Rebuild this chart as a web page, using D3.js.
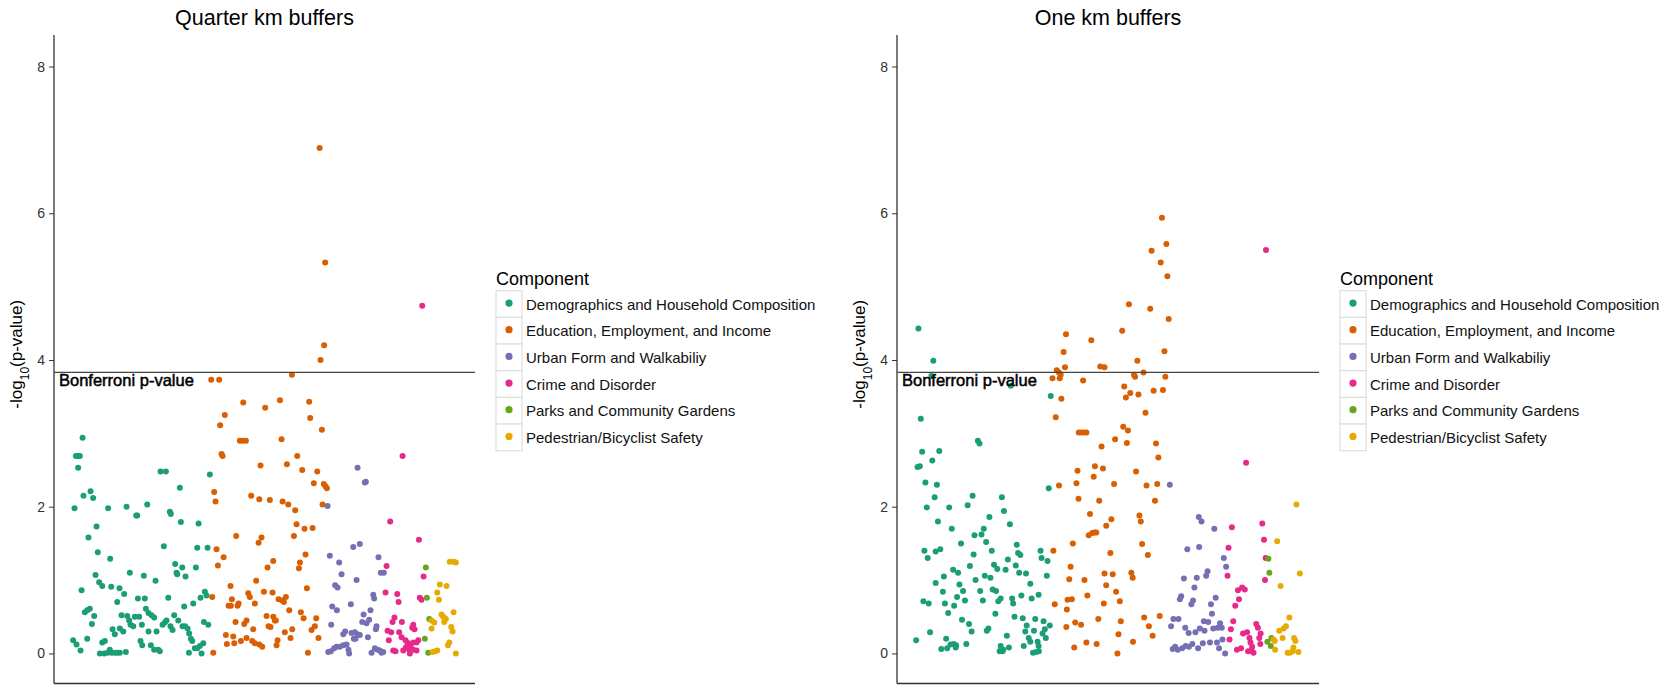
<!DOCTYPE html>
<html>
<head>
<meta charset="utf-8">
<script src="https://cdn.jsdelivr.net/npm/d3@7"></script>
<style>
  body { margin: 0; background: #fff; }
  text { font-family: "Liberation Sans", Arial, sans-serif; }
</style>
</head>
<body>
<svg id="chart" width="1669" height="685"></svg>
<script>
// component names and Dark2 colours
let components = [
    'Demographics and Household Composition',
    'Education, Employment, and Income',
    'Urban Form and Walkabiliy',
    'Crime and Disorder',
    'Parks and Community Gardens',
    'Pedestrian/Bicyclist Safety'
];
let colors = ['#1B9E77', '#D95F02', '#7570B3', '#E7298A', '#66A61E', '#E6AB02'];

let yTicks = [0, 2, 4, 6, 8];
let bonferroni = 3.83;

// [variable index, -log10(p)]
// ---- quarter km buffers ----
let quarterDemo = [
    [9.5,2.94],[3.6,2.69],[5.1,2.69],[7.1,2.69],[5.6,2.53],[2.4,1.98],[10.3,2.15],[16.5,2.21],[18.8,2.12],
    [21.8,1.73],[14.7,1.58],[22.9,1.38],[33.8,1.29],[32,1.98],[48.2,2],[56.7,1.88],[57.6,1.88],[66.4,2.03],
    [20.9,1.07],[24.1,0.97],[26.8,0.92],[8.6,0.86],[34.7,0.91],[42,0.89],[46.1,0.81],[40,0.7],[51.1,1.1],
    [63.4,1.06],[73.7,0.99],[58.2,0.75],[64.3,0.75],[84.9,0.76],[78.1,2.48],[82.8,2.48],[86.3,1.93],[87.2,1.9],
    [95.1,2.26],[96,1.79],[81,1.46],[91,1.22],[92.2,1.1],[92.8,1.08],[97.2,1.17],[100.1,1.05],[109.2,1.17],
    [110.4,1.44],[111.6,1.77],[119.5,1.44],[121.5,2.44],[117.1,0.84],[118.6,0.79],[113.3,0.76],[106.9,0.68],
    [98.9,0.64],[11.5,0.56],[13.6,0.59],[15.9,0.61],[19.7,0.51],[17.7,0.4],[13.6,0.2],[1.2,0.18],[4.2,0.12],
    [7.7,0.04],[26.8,0.15],[29.1,0.17],[24.7,0],[28.5,0],[31.5,0.01],[33.5,0.05],[35,0.01],[37.9,0.01],
    [40,0.01],[42.3,0.01],[47.6,0.02],[35.9,0.33],[37.9,0.26],[43.8,0.52],[42.3,0.34],[45.3,0.3],[48.8,0.51],
    [50.5,0.45],[51.7,0.39],[54.1,0.37],[55.5,0.5],[59.3,0.5],[61.7,0.39],[60.5,0.17],[62,0.11],[65.2,0.61],
    [67.5,0.55],[70.2,0.52],[72.5,0.49],[67.5,0.3],[74.6,0.3],[69.6,0.11],[72.5,0.05],[76.1,0.05],[77.5,0.03],
    [79.9,0.39],[81.9,0.42],[83.4,0.45],[86.9,0.37],[88.7,0.32],[90.1,0.52],[93.7,0.45],[97.5,0.37],[99.8,0.37],
    [101.9,0.34],[103.3,0.27],[104.8,0.2],[106,0.17],[103.1,0.01],[108.3,0.07],[110.4,0.07],[112.7,0.1],
    [115.7,0.14],[114.2,0],[116.3,0.43],[120.1,0.39]
];
let quarterEdu = [
    [122.7,3.73],[129.7,3.73],[134.7,3.25],[130.6,3.11],[131.8,2.72],[132.7,2.69],[125.3,2.2],[126.5,2.07],
    [127.4,1.42],[133.6,1.31],[128.6,1.2],[123.6,0.77],[124.5,0.01],[139.7,0.92],[140.9,0.74],[138,0.65],
    [140,0.65],[146.8,0.68],[145.9,0.65],[144.1,0.43],[135.6,0.25],[136.5,0.13],[142.1,0.23],[143,0.14],
    [148.8,0.17],[150.9,3.42],[147.9,2.9],[150.3,2.9],[153.2,2.9],[144.7,1.6],[157.9,2.15],[165,2.1],
    [166.1,2.56],[170.2,3.35],[151.8,0.4],[153.8,0.45],[155.3,0.82],[156.7,0.77],[161.1,0.68],[162.3,0.99],
    [164.4,1.51],[167,1.58],[172.3,1.17],[177.3,1.26],[169.1,0.84],[176.7,0.83],[171.4,0.51],[173.2,0.37],
    [174.9,0.36],[177.3,0.5],[178.7,0.45],[179.6,0.45],[153.8,0.21],[158.8,0.17],[161.1,0.14],[165,0.12],
    [167.6,0.09],[159.7,0.33],[174.3,2.09],[181.1,0.18],[180.2,0.11],[183.2,3.45],[184.6,2.92],[189.3,2.58],
    [185.5,2.07],[190.5,2.03],[196.6,1.95],[197.8,1.76],[195.5,1.6],[198.4,2.69],[182,0.74],[185.2,0.72],
    [186.7,0.7],[188.4,0.77],[191.4,0.59],[187.5,0.29],[192.5,0.21],[194,0.33],[193.7,3.8],[199.9,1.16],
    [200.8,1.24],[222.1,4.2],[218.9,4],[208.9,3.43],[209.8,3.21],[220.1,3.05],[202.8,2.5],[216,2.48],
    [213,2.32],[221.8,2.31],[223.3,2.28],[224.5,2.25],[220.7,2.03],[204.8,1.7],[211.9,1.71],[205.7,1.35],
    [206.9,0.89],[204,0.48],[201.6,0.56],[215.1,0.48],[213.9,0.37],[211,0.32],[217.1,0.21],[207.8,0.01],
    [218.1,6.89],[223,5.33]
];
let quarterUrban = [
    [225.1,2.01],[251.5,2.53],[257.9,2.33],[258.8,2.34],[247.7,1.45],[253.5,1.49],[227.1,1.33],[235.3,1.24],
    [237.4,1.08],[250.6,1],[269.9,1.31],[231.8,0.93],[233.9,0.9],[229.2,0.64],[233.3,0.59],[245.6,0.67],
    [228.3,0.39],[265.3,0.8],[266.1,0.75],[262.9,0.59],[272,1.1],[274.6,1.1],[256.8,0.53],[255.6,0.43],
    [259.4,0.41],[261.7,0.46],[268.2,0.37],[267.6,0.33],[238.9,0.26],[240.6,0.3],[246.2,0.28],[249.1,0.29],
    [251.5,0.26],[253.5,0.25],[249.7,0.2],[248.2,0.2],[260.6,0.22],[225.7,0.02],[228,0.03],[230.9,0.07],
    [233,0.09],[235.9,0.09],[238.9,0.11],[241.8,0.12],[243.5,0.05],[244.1,0],[263.8,0.01],[266.7,0.07],
    [269.1,0.05],[271.1,0.04],[272.6,0.01],[274.1,0.02]
];
let quarterCrime = [
    [291.1,2.69],[280.2,1.8],[305.5,1.55],[277,1.19],[309.6,1.05],[276.1,0.83],[286.4,0.81],[287.6,0.7],
    [306.3,0.76],[307.8,0.73],[284,0.49],[282.3,0.43],[290.5,0.43],[300.5,0.39],[299.6,0.35],[301.6,0.33],
    [277.9,0.31],[281.1,0.29],[288.1,0.29],[290.2,0.22],[279,0.18],[293.7,0.18],[295.5,0.14],[298.1,0.09],
    [300.5,0.15],[303.4,0.15],[304.9,0.18],[282.9,0.04],[284.9,0.03],[291.7,0.04],[294,0.08],[297,0.05],
    [297.5,0],[300.5,0.05],[303.4,0.04],[296.1,0.14],[308.4,4.74]
];
let quarterParks = [[311.6,1.17],[312.5,0.76],[314.6,0.47],[310.7,0.2],[313.7,0.01]];
let quarterSafety = [
    [332.7,1.25],[336,1.25],[338,1.24],[323.9,0.94],[329.8,0.92],[321.6,0.83],[323.1,0.73],[336,0.56],
    [325.4,0.53],[326.9,0.5],[327.8,0.43],[329.2,0.47],[316.6,0.45],[319,0.42],[316.6,0.34],[333.9,0.36],
    [335.1,0.3],[332.2,0.15],[331,0.11],[317.5,0.02],[319.8,0.03],[321.6,0.04],[338,0]
];

// ---- one km buffers ----
let oneDemo = [
    [4.3,4.43],[17.5,3.99],[15.8,3.78],[86.3,3.65],[6.4,3.2],[7.6,2.75],[22.8,2.76],[16.6,2.63],[3.5,2.54],
    [5.5,2.55],[10.5,2.33],[20.7,2.3],[57.1,2.9],[58.5,2.86],[18.7,2.13],[11.7,1.99],[21.6,1.8],[31.6,1.99],
    [33.9,1.7],[48,2.02],[52.4,2.15],[78.4,2.13],[80.2,1.94],[85.5,1.76],[67.3,1.86],[62.3,1.7],[60.3,1.62],
    [54.1,1.61],[64.4,1.52],[69.4,1.4],[42.1,1.5],[53.3,1.35],[9.6,1.4],[12.5,1.3],[19.6,1.39],[23.7,1.42],
    [91.6,1.48],[92.8,1.37],[94.8,1.34],[83.7,1.28],[71.4,1.21],[74.3,1.15],[81.7,1.14],[90.7,1.2],[50,1.19],
    [35.1,1.14],[39.5,1.1],[26.9,1.05],[19.6,0.96],[40.7,0.94],[55,1],[63.2,1.06],[68.2,1.03],[26,0.84],
    [38.6,0.77],[43.9,0.85],[45.6,0.72],[59.1,0.85],[61.5,0.72],[70.2,0.87],[73.2,0.85],[75.2,0.71],[77.3,0.75],
    [87.5,0.75],[88.4,0.68],[95.7,0.79],[93.7,1.1],[99.8,1.09],[103.6,0.95],[104.8,0.75],[111,0.8],[8.7,0.71],
    [13.4,0.68],[27.8,0.68],[36,0.65],[30.7,0.55],[43,0.46],[49.2,0.4],[51.5,0.3],[65,0.31],[66.4,0.34],
    [72.6,0.54],[89.6,0.5],[96.9,0.48],[100.4,0.38],[99.2,0.3],[108,0.47],[106.9,0.31],[115.4,0.44],
    [116.5,0.33],[120.9,0.38],[114.5,0.27],[117.4,0.21],[102.2,0.21],[103.6,0.16],[110.1,0.16],[111,0.1],
    [97.8,0.1],[106,0.01],[108.9,0.02],[111.2,0.03],[14.6,0.29],[2.3,0.18],[28.9,0.2],[24.6,0.06],[29.8,0.07],
    [32.8,0.12],[35.7,0.13],[37.7,0.11],[37.4,0.08],[46.8,0.13],[82.8,0.24],[84.6,0.08],[77.3,0.1],[77.9,0.05],
    [79,0.03],[76.4,0.03],[79.6,0.05],[118.3,1.06],[112.7,1.4],[113.6,1.3],[118.9,1.26],[120,2.25],[121.8,3.51]
];
let oneEdu = [
    [135.3,4.35],[133.2,4.11],[127.1,3.86],[129.1,3.83],[130.6,3.8],[134.4,3.9],[123.3,3.75],[129.7,3.75],
    [131.2,3.47],[126.2,3.22],[150.5,3.72],[157.8,4.27],[165.7,3.91],[169.5,3.9],[146.7,3.01],[149,3.01],
    [151.4,3.01],[153.4,3.01],[166.9,2.82],[161,2.55],[168.1,2.52],[145.5,2.49],[159.9,2.41],[129.1,2.29],
    [144.6,2.32],[146.4,2.11],[164.8,2.08],[156.6,1.9],[155.5,1.61],[158.7,1.64],[160.8,1.65],[162.2,1.65],
    [171,1.74],[141.4,1.5],[124.1,1.4],[139.4,1.18],[138.2,1.01],[151.7,1],[169.5,1.09],[171,0.93],
    [154.3,0.79],[136.7,0.73],[140.5,0.74],[168.9,0.68],[125.3,0.67],[136.1,0.6],[164,0.47],[143.5,0.42],
    [148.7,0.39],[135.6,0.36],[153.4,0.15],[162.5,0.13],[142.6,0.08],
    [220.5,5.94],[224.4,5.58],[211.3,5.49],[219.4,5.33],[225.3,5.14],[191.2,4.76],[210.1,4.7],[226.5,4.56],
    [185.2,4.4],[222.7,4.12],[198.7,3.99],[195.7,3.8],[196.6,3.77],[204.1,3.83],[223.5,3.77],[187,3.64],
    [192.4,3.55],[188.5,3.49],[199.6,3.53],[213.1,3.58],[221.4,3.59],[205.9,3.28],[186.1,3.09],[190.3,3.04],
    [178.9,2.92],[189.4,2.87],[215.2,2.86],[217.3,2.67],[197.5,2.48],[178,2.31],[206.8,2.29],[216.3,2.31],
    [214.3,2.08],[175.6,1.83],[200.5,1.88],[201.7,1.8],[202.9,1.49],[208,1.34],[174.7,1.37],[193.3,1.1],
    [194.5,1.03],[176.8,1.08],[179.8,0.84],[183.1,0.71],[184,0.44],[204.7,0.49],[208.9,0.37],[212.2,0.24],
    [218.5,0.51],[181.9,0.26],[194.8,0.16],[181,0]
];
let oneUrban = [
    [227.5,2.3],[253.2,1.86],[255.6,1.8],[267,1.7],[243,1.42],[253.5,1.45],[275.4,1.3],[277.5,1.18],
    [259.8,1.06],[261,1.12],[251.4,1.03],[240,1.02],[249.3,0.9],[237.6,0.78],[236.4,0.74],[248.1,0.72],
    [246.6,0.67],[268.2,0.76],[264,0.67],[264.9,0.54],[230.7,0.47],[235.2,0.47],[228.6,0.37],[241.2,0.35],
    [244.2,0.28],[250.2,0.29],[254.1,0.34],[258.3,0.31],[257.7,0.44],[261.6,0.43],[266.1,0.34],[270,0.35],
    [272.1,0.41],[273.6,0.35],[230.1,0.06],[232.2,0.09],[234.6,0.05],[238.5,0.07],[241.5,0.1],[244.5,0.09],
    [247.5,0.13],[252.6,0.07],[256.8,0.14],[263.1,0.15],[269.4,0.15],[274.2,0.19],[271.2,0.07],[276.6,0]
];
let oneCrime = [
    [312.9,5.5],[295.2,2.6],[282.6,1.72],[309.6,1.77],[311.1,1.55],[279.6,1.44],[278.7,1.06],[312.6,1.3],
    [312,1],[288,0.86],[291.6,0.9],[294,0.87],[288.9,0.74],[285.6,0.65],[283.8,0.44],[281.7,0.33],
    [280.5,0.19],[292.5,0.27],[296.1,0.29],[304.2,0.4],[305.7,0.35],[308.1,0.27],[306.9,0.21],[298.2,0.21],
    [299.1,0.15],[300.6,0.09],[287.1,0.05],[290.7,0.07],[297,0.03],[300,0.04],[301.8,0.01],[307.8,0.13]
];
let oneParks = [[315,1.29],[315.9,1.1],[317.7,0.21],[314.1,0.16],[317.1,0.1]];
let oneSafety = [
    [339.9,2.03],[322.8,1.53],[342.9,1.09],[325.8,0.92],[333.6,0.49],[330.6,0.37],[328.5,0.34],[324.6,0.31],
    [319.5,0.19],[320.7,0.17],[327.6,0.21],[337.8,0.21],[339,0.17],[321,0.05],[332.1,0.01],[334.2,0.01],
    [336.6,0.03],[337.2,0.08],[341.7,0.02]
];

let panels = [
    { title: 'Quarter km buffers', left: 54, right: 475, legendX: 496,
      series: [quarterDemo, quarterEdu, quarterUrban, quarterCrime, quarterParks, quarterSafety] },
    { title: 'One km buffers', left: 897, right: 1319, legendX: 1340,
      series: [oneDemo, oneEdu, oneUrban, oneCrime, oneParks, oneSafety] }
];

let svg = d3.select('#chart');
let plotTop = 35, plotBottom = 683.5;

let y = d3.scaleLinear().domain([-0.41, 8.43]).range([plotBottom, plotTop]);

panels.forEach(p => {
    let all = [].concat(...p.series);
    let ext = d3.extent(all, d => d[0]);
    let pad = (ext[1] - ext[0]) * 0.05;
    let x = d3.scaleLinear().domain([ext[0] - pad, ext[1] + pad]).range([p.left, p.right]);

    let g = svg.append('g');

    // title
    g.append('text')
        .attr('x', (p.left + p.right) / 2)
        .attr('y', 25)
        .attr('text-anchor', 'middle')
        .style('font-size', '21.5px')
        .attr('fill', '#000')
        .text(p.title);

    // y axis
    let yAxis = d3.axisLeft(y).tickValues(yTicks).tickSize(5).tickPadding(4);
    let ag = g.append('g').attr('transform', 'translate(' + p.left + ',0)').call(yAxis);
    ag.select('.domain').remove();
    ag.selectAll('line').attr('stroke', '#333');
    ag.selectAll('text')
        .style('font-size', '14px')
        .style('font-family', '"Liberation Sans", Arial, sans-serif')
        .attr('fill', '#333');

    g.append('line')
        .attr('x1', p.left).attr('x2', p.left)
        .attr('y1', plotTop).attr('y2', plotBottom)
        .attr('stroke', '#333').attr('stroke-width', 1.3);
    g.append('line')
        .attr('x1', p.left).attr('x2', p.right)
        .attr('y1', plotBottom).attr('y2', plotBottom)
        .attr('stroke', '#333').attr('stroke-width', 1.3);

    // y axis title
    let yl = g.append('text')
        .attr('transform', 'translate(' + (p.left - 32) + ',' + ((plotTop + plotBottom) / 2 - 5) + ') rotate(-90)')
        .attr('text-anchor', 'middle')
        .style('font-size', '17px')
        .attr('fill', '#000');
    yl.append('tspan').text('-log');
    yl.append('tspan').attr('baseline-shift', 'sub').style('font-size', '12px').text('10');
    yl.append('tspan').text('(p-value)');

    // points
    p.series.forEach((s, k) => {
        g.append('g')
            .selectAll('circle')
            .data(s)
            .enter()
            .append('circle')
            .attr('cx', d => x(d[0]))
            .attr('cy', d => y(d[1]))
            .attr('r', 3)
            .attr('fill', colors[k]);
    });

    // bonferroni threshold
    g.append('line')
        .attr('x1', p.left).attr('x2', p.right)
        .attr('y1', y(bonferroni)).attr('y2', y(bonferroni))
        .attr('stroke', '#444').attr('stroke-width', 1.3);
    g.append('text')
        .attr('x', p.left + 5)
        .attr('y', y(bonferroni) + 14)
        .style('font-size', '16.5px')
        .attr('fill', '#000')
        .attr('stroke', '#000')
        .attr('stroke-width', 0.5)
        .text('Bonferroni p-value');

    // legend
    let lg = g.append('g').attr('transform', 'translate(' + p.legendX + ',0)');
    lg.append('text')
        .attr('x', 0).attr('y', 285)
        .style('font-size', '18px')
        .attr('fill', '#000')
        .text('Component');
    let keyH = 26.67;
    let item = lg.selectAll('.item')
        .data(components)
        .enter()
        .append('g')
        .attr('class', 'item')
        .attr('transform', (d, i) => 'translate(0,' + (290.7 + i * keyH) + ')');
    item.append('rect')
        .attr('width', 26).attr('height', keyH)
        .attr('fill', '#fff')
        .attr('stroke', '#d9d9d9').attr('stroke-width', 1);
    item.append('circle')
        .attr('cx', 13).attr('cy', keyH / 2 - 1)
        .attr('r', 3.6)
        .attr('fill', (d, i) => colors[i]);
    item.append('text')
        .attr('x', 30).attr('y', keyH / 2 + 5.5)
        .style('font-size', '15px')
        .attr('fill', '#111')
        .text(d => d);
});
</script>
</body>
</html>
